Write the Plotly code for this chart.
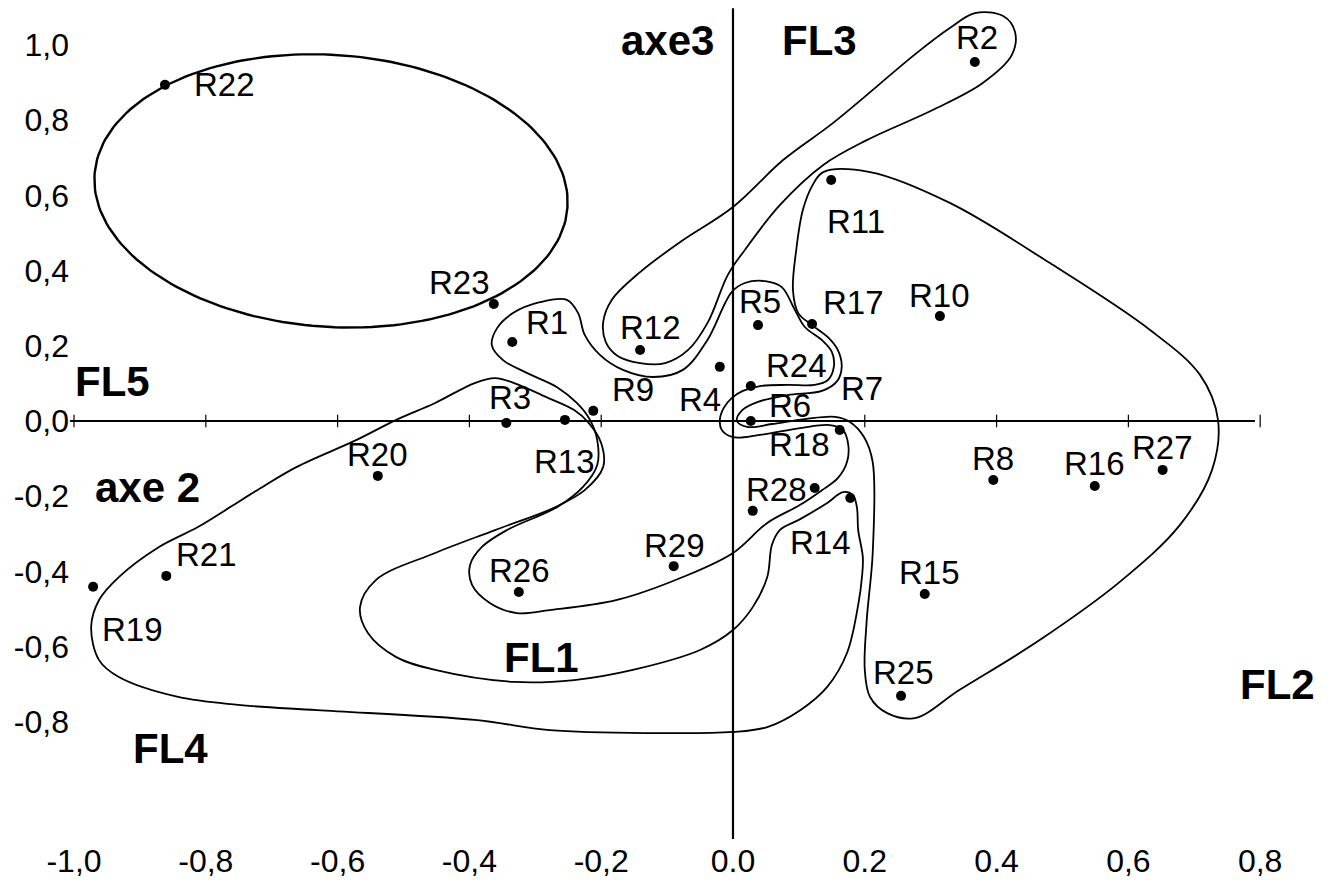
import numpy as np
import plotly.graph_objects as go

# ---------------- data ----------------
names = ["R1", "R2", "R3", "R4", "R5", "R6", "R7", "R8", "R9", "R10",
         "R11", "R12", "R13", "R14", "R15", "R16", "R17", "R18", "R19", "R20",
         "R21", "R22", "R23", "R24", "R25", "R26", "R27", "R28", "R29"]
axe2_vals = [-0.335, 0.367, -0.344, -0.020, 0.038, 0.027, 0.162, 0.395, -0.212, 0.314,
             0.149, -0.141, -0.255, 0.178, 0.291, 0.549, 0.120, 0.124, -0.971, -0.539,
             -0.860, -0.862, -0.363, 0.027, 0.255, -0.325, 0.652, 0.030, -0.090]
axe3_vals = [0.210, 0.955, -0.005, 0.144, 0.255, 0.000, -0.024, -0.157, 0.027, 0.279,
             0.641, 0.189, 0.003, -0.205, -0.460, -0.173, 0.258, -0.178, -0.441, -0.146,
             -0.412, 0.894, 0.311, 0.093, -0.731, -0.455, -0.130, -0.239, -0.386]

x_tick_vals = [-1.0, -0.8, -0.6, -0.4, -0.2, 0.0, 0.2, 0.4, 0.6, 0.8]
x_tick_text = ["-1,0", "-0,8", "-0,6", "-0,4", "-0,2", "0.0", "0.2", "0.4", "0,6", "0,8"]
y_tick_vals = [1.0, 0.8, 0.6, 0.4, 0.2, 0.0, -0.2, -0.4, -0.6, -0.8]
y_tick_text = ["1,0", "0,8", "0,6", "0,4", "0,2", "0,0", "-0,2", "-0,4", "-0,6", "-0,8"]

# FL5 group: ellipse (centre and two semi-axis vectors, data units)
fl5_center = (-0.610, 0.612)
fl5_axis_u = (0.3588, -0.0440)
fl5_axis_v = (-0.0144, -0.3608)

# other group outlines (hand-drawn contours), data units
fl3_x = [0.000, -0.080, -0.141, -0.184, -0.197, -0.193, -0.175, -0.141, -0.103, -0.068,
         -0.038, -0.008, 0.018, 0.071, 0.137, 0.203, 0.303, 0.379, 0.423, 0.428,
         0.410, 0.367, 0.329, 0.279, 0.152, 0.076]
fl3_y = [0.569, 0.476, 0.396, 0.322, 0.263, 0.210, 0.173, 0.154, 0.154, 0.189,
         0.263, 0.388, 0.455, 0.574, 0.681, 0.747, 0.827, 0.899, 0.973, 1.035,
         1.077, 1.085, 1.045, 0.979, 0.793, 0.694]

fl2_x = [0.137, 0.208, 0.329, 0.481, 0.633, 0.709, 0.736, 0.727, 0.678, 0.587,
         0.466, 0.344, 0.276, 0.234, 0.208, 0.200, 0.203, 0.212, 0.212, 0.199,
         0.178, 0.155, 0.109, 0.059, 0.023, 0.006, 0.014, 0.038, 0.083, 0.135,
         0.158, 0.165, 0.159, 0.144, 0.120, 0.099, 0.091, 0.096, 0.106, 0.121]
fl2_y = [0.662, 0.662, 0.580, 0.420, 0.242, 0.122, 0.003, -0.130, -0.277, -0.428,
         -0.582, -0.715, -0.790, -0.777, -0.734, -0.662, -0.529, -0.351, -0.109, -0.043,
         -0.003, 0.011, 0.005, -0.008, -0.016, 0.000, 0.029, 0.051, 0.069, 0.080,
         0.106, 0.144, 0.189, 0.223, 0.255, 0.287, 0.348, 0.455, 0.561, 0.628]

fl1_x = [-0.366, -0.358, -0.334, -0.293, -0.252, -0.235, -0.225, -0.202, -0.167, -0.121,
         -0.076, -0.039, -0.002, 0.018, 0.049, 0.074, 0.094, 0.109, 0.135, 0.150,
         0.153, 0.144, 0.124, 0.083, 0.041, 0.015, -0.002, -0.014, -0.020, -0.017,
         0.000, 0.041, 0.102, 0.147, 0.167, 0.175, 0.173, 0.159, 0.135, 0.102,
         0.052, 0.000, -0.076, -0.176, -0.278, -0.328, -0.369, -0.396, -0.399, -0.381,
         -0.343, -0.267, -0.228, -0.206, -0.206, -0.217, -0.237, -0.267, -0.313, -0.349]
fl1_y = [0.202, 0.247, 0.287, 0.316, 0.322, 0.287, 0.229, 0.176, 0.136, 0.117,
         0.136, 0.215, 0.343, 0.367, 0.372, 0.356, 0.295, 0.250, 0.215, 0.184,
         0.144, 0.109, 0.096, 0.096, 0.093, 0.080, 0.061, 0.035, 0.003, -0.024,
         -0.043, -0.037, -0.019, -0.011, -0.024, -0.064, -0.109, -0.152, -0.184, -0.223,
         -0.271, -0.351, -0.415, -0.476, -0.503, -0.511, -0.484, -0.436, -0.383, -0.335,
         -0.290, -0.229, -0.176, -0.117, -0.051, 0.003, 0.048, 0.090, 0.128, 0.162]

fl4_x = [-0.452, -0.392, -0.361, -0.332, -0.284, -0.241, -0.219, -0.200, -0.197, -0.225,
         -0.272, -0.361, -0.452, -0.542, -0.566, -0.554, -0.511, -0.452, -0.332, -0.241,
         -0.152, -0.050, 0.000, 0.030, 0.052, 0.059, 0.071, 0.102, 0.143, 0.167,
         0.182, 0.188, 0.190, 0.197, 0.196, 0.190, 0.173, 0.143, 0.102, 0.052,
         0.000, -0.126, -0.278, -0.392, -0.631, -0.751, -0.842, -0.932, -0.962, -0.974,
         -0.962, -0.932, -0.871, -0.812, -0.763, -0.722, -0.662, -0.572, -0.511]
fl4_y = [0.048, 0.101, 0.114, 0.101, 0.064, 0.029, -0.005, -0.059, -0.122, -0.184,
         -0.231, -0.290, -0.351, -0.423, -0.495, -0.564, -0.628, -0.662, -0.694, -0.689,
         -0.662, -0.609, -0.556, -0.495, -0.415, -0.330, -0.290, -0.261, -0.218, -0.189,
         -0.197, -0.229, -0.290, -0.362, -0.410, -0.489, -0.617, -0.707, -0.769, -0.814,
         -0.827, -0.830, -0.822, -0.795, -0.769, -0.755, -0.734, -0.681, -0.636, -0.548,
         -0.476, -0.415, -0.335, -0.282, -0.229, -0.184, -0.122, -0.051, 0.003]

group_labels = ["axe3", "FL3", "FL5", "axe 2", "FL4", "FL1", "FL2"]
group_label_x = [-0.099, 0.132, -0.941, -0.888, -0.854, -0.290, 0.827]
group_label_y = [1.013, 1.013, 0.104, -0.178, -0.870, -0.630, -0.702]

# ---------------- styling (label offsets in px) ----------------
label_dx = [35, 2, 4, -20, 2, 39, 22, 0, 40, 0,
            25, 10, 0, -30, 5, 0, 41, -15, 39, 0,
            40, 60, -34, 46, 2, 1, 0, 24, 1]
label_dy = [20, 24, 25, -33, 24, 16, 42, 22, 21, 21,
            -42, 22, -42, -44, 21, 23, 22, 43, -43, 21,
            21, 0, 22, 21, 23, 22, 22, 21, 21]

FONT = "Liberation Sans, Arial, sans-serif"

fig = go.Figure()

# ellipse outline for FL5
t = np.linspace(0, 2 * np.pi, 200)
ex = fl5_center[0] + fl5_axis_u[0] * np.cos(t) + fl5_axis_v[0] * np.sin(t)
ey = fl5_center[1] + fl5_axis_u[1] * np.cos(t) + fl5_axis_v[1] * np.sin(t)
fig.add_trace(go.Scatter(x=ex, y=ey, mode="lines",
                         line=dict(color="black", width=2.4),
                         hoverinfo="skip", showlegend=False))

outlines = [(fl3_x, fl3_y), (fl2_x, fl2_y), (fl1_x, fl1_y), (fl4_x, fl4_y)]
for ox, oy in outlines:
    fig.add_trace(go.Scatter(
        x=list(ox) + [ox[0]], y=list(oy) + [oy[0]], mode="lines",
        line=dict(color="black", width=1.8, shape="spline", smoothing=1.0),
        hoverinfo="skip", showlegend=False))

# tick marks on the horizontal axis line
fig.add_trace(go.Scatter(
    x=x_tick_vals, y=[0] * len(x_tick_vals), mode="markers",
    marker=dict(symbol="line-ns", size=9, line=dict(color="black", width=1.2)),
    hoverinfo="skip", showlegend=False))

# points
fig.add_trace(go.Scatter(
    x=axe2_vals, y=axe3_vals, mode="markers",
    marker=dict(color="black", size=10),
    text=names, hoverinfo="text", showlegend=False))

# axis lines through the origin
fig.add_shape(type="line", x0=-1.012, x1=0.792, y0=0, y1=0,
              line=dict(color="black", width=2.2))
fig.add_shape(type="line", x0=0, x1=0, y0=1.098, y1=-1.13,
              line=dict(color="black", width=2.2))

for n, xv, yv, dx, dy in zip(names, axe2_vals, axe3_vals, label_dx, label_dy):
    fig.add_annotation(x=xv, y=yv, text=n, showarrow=False, xshift=dx, yshift=dy,
                       font=dict(family=FONT, size=33, color="black"))

for tx, xv, yv in zip(group_labels, group_label_x, group_label_y):
    fig.add_annotation(x=xv, y=yv, text="<b>" + tx + "</b>", showarrow=False,
                       font=dict(family=FONT, size=42, color="black"))

fig.update_layout(
    width=1332, height=884,
    margin=dict(l=70, r=0, t=0, b=45, autoexpand=False),
    paper_bgcolor="white", plot_bgcolor="white",
    font=dict(family=FONT, color="black"),
    xaxis=dict(range=[-1.0061, 0.9090], showgrid=False, zeroline=False, showline=False,
               ticks="", tickvals=x_tick_vals, ticktext=x_tick_text, automargin=False,
               tickfont=dict(family=FONT, size=32, color="black")),
    yaxis=dict(range=[-1.1117, 1.1197], showgrid=False, zeroline=False, showline=False,
               ticks="", tickvals=y_tick_vals, ticktext=y_tick_text, automargin=False,
               tickfont=dict(family=FONT, size=32, color="black")),
)

fig.write_html("out.html", config={"displayModeBar": False},
               post_script="document.body.style.margin='0';document.body.style.overflow='hidden';")
